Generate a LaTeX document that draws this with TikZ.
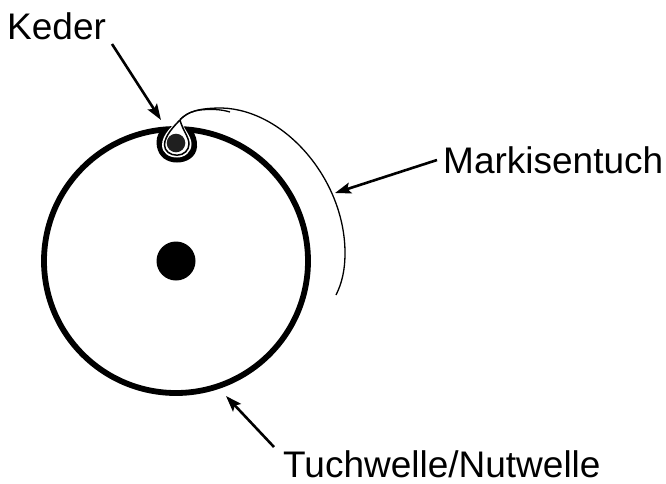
\documentclass[tikz,border=0pt]{standalone}
\usepackage{fontspec}
\setmainfont{Liberation Sans}
\usetikzlibrary{arrows.meta}
\tikzset{
  lbl/.style={inner sep=0pt,font=\fontsize{37}{40}\selectfont,anchor=base west},
  pointer/.style={line width=2.6pt,-{Stealth[length=16pt,width=11pt,inset=3pt]}},
  roller/.style={line width=5.8pt},
  cloth/.style={line width=1.3pt}
}
\begin{document}
\begin{tikzpicture}[x=1pt,y=-1pt]
\useasboundingbox (0,0) rectangle (666,483);
\node[lbl] (keder) at (7,39.5) {Keder};
\node[lbl] (markise) at (443,173) {Markisentuch};
\node[lbl] (welle) at (283,477.5) {Tuchwelle/Nutwelle};
\coordinate (kederTip) at (161,120);
\coordinate (markiseTip) at (335,193);
\coordinate (welleTip) at (226,396);
\coordinate (markiseStart) at (437,160);
\coordinate (kederStart) at (112,44);
\coordinate (welleStart) at (274,447);
% roller
\draw[roller] (176,261) circle[radius=132pt];
\fill (176,261) circle[radius=19.5pt];
% groove: black outer band
\fill (162,128) .. controls (156,136) and (156,142) .. (157,147) .. controls (159,157) and (167,162.5) .. (177,162.5) .. controls (187,162.5) and (196,157) .. (197,147) .. controls (197.5,141) and (196,135) .. (191,128) -- cycle;
% white teardrop
\fill[white] (180,119) .. controls (174,124) and (162,134) .. (162,145) .. controls (162,153) and (169,157.5) .. (177,157.5) .. controls (185,157.5) and (191.5,152) .. (191.5,144) .. controls (191.5,136) and (183,128) .. (180,119) -- cycle;
% thin ring
\draw[line width=1.5pt] (180,120) .. controls (174,126) and (164.5,136) .. (164.5,145) .. controls (164.5,151) and (170,155.2) .. (177,155.2) .. controls (184,155.2) and (189,150) .. (189,144) .. controls (189,137) and (182.5,130) .. (180,120);
\fill[black!88] (176,143) circle[radius=9.3pt];
% cloth
\draw[cloth] (180,120) .. controls (188,111) and (200,108) .. (222,108) .. controls (285,110) and (345,180) .. (345,253) .. controls (345,270) and (342,283) .. (336,295);
\draw[line width=1.3pt] (180,119.5) .. controls (187,113) and (193,111) .. (200,110) .. controls (210,109) and (220,109) .. (230,112);
% pointers
\draw[pointer] (kederStart) -- (kederTip);
\draw[pointer] (markiseStart) -- (markiseTip);
\draw[pointer] (welleStart) -- (welleTip);
\end{tikzpicture}
\end{document}
